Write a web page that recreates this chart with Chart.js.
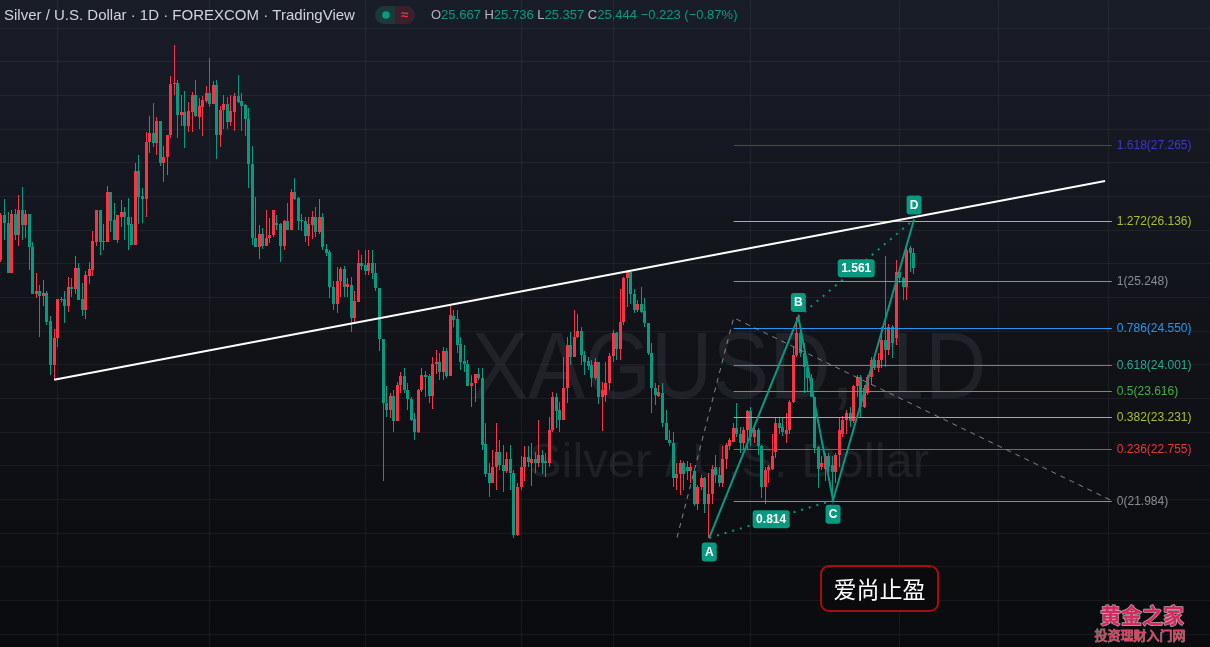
<!DOCTYPE html>
<html>
<head>
<meta charset="utf-8">
<title>XAGUSD 1D</title>
<style>
  html, body { margin: 0; padding: 0; background: #0e1016; overflow: hidden; }
  #wrap { position: relative; width: 1210px; height: 647px; }
  canvas { display: block; }
</style>
<script src="https://cdn.jsdelivr.net/npm/chart.js@4.4.1/dist/chart.umd.min.js"></script>
</head>
<body>
<div id="wrap"><canvas id="c" width="1210" height="647"></canvas></div>
<script>
// ---- daily candles, XAGUSD (FOREXCOM) ----
const opens = [
  25.56, 26.23, 26.11, 25.37, 26.24, 25.93, 26.30, 26.07, 26.24, 25.75,
  25.05, 25.09, 25.03, 25.07, 24.65, 24.00, 24.40, 24.98, 24.98, 24.88,
  25.16, 25.13, 25.44, 24.98, 24.81, 25.32, 25.41, 25.82, 26.30, 25.82,
  25.82, 26.56, 26.15, 25.85, 26.19, 26.27, 26.19, 26.09, 25.78, 26.88,
  26.51, 26.47, 27.31, 27.44, 27.29, 27.62, 27.00, 27.08, 27.41, 28.17,
  28.19, 27.71, 27.76, 27.55, 27.76, 28.01, 27.68, 27.83, 27.92, 28.03,
  27.87, 28.16, 27.41, 27.78, 27.87, 27.61, 27.76, 27.99, 27.92, 27.86,
  27.65, 26.99, 25.89, 25.75, 25.94, 25.76, 25.88, 25.93, 26.10, 26.09,
  25.76, 26.14, 26.01, 26.56, 26.48, 26.15, 26.14, 25.92, 26.08, 26.20,
  25.97, 26.20, 25.72, 25.67, 25.16, 24.91, 25.24, 25.42, 25.16, 25.19,
  24.69, 24.94, 25.51, 25.48, 25.40, 25.51, 25.36, 25.14, 24.38, 23.44,
  23.33, 23.54, 23.17, 23.70, 23.84, 23.63, 23.50, 23.19, 23.01, 23.63,
  23.85, 23.84, 23.54, 24.01, 24.04, 23.89, 24.21, 23.84, 24.73, 24.68,
  24.31, 24.06, 24.02, 23.68, 23.73, 23.86, 23.80, 22.83, 22.39, 22.25,
  22.48, 22.70, 22.51, 22.42, 22.61, 22.40, 21.47, 22.18, 22.48, 22.63,
  22.54, 22.61, 22.54, 22.66, 22.58, 22.55, 23.04, 23.53, 23.33, 23.18,
  23.65, 24.29, 24.12, 24.41, 24.50, 24.15, 24.06, 24.00, 23.80, 24.04,
  23.53, 23.55, 23.73, 24.13, 24.48, 24.24, 24.63, 25.29, 25.38, 25.06,
  24.82, 24.91, 24.80, 24.62, 24.17, 23.65, 23.54, 23.58, 23.13, 22.89,
  22.84, 22.32, 22.38, 22.54, 22.49, 22.42, 22.42, 21.94, 22.18, 22.32,
  21.94, 22.08, 22.48, 22.37, 22.24, 22.61, 22.79, 22.86, 23.06, 22.98,
  22.84, 23.03, 23.31, 22.93, 23.04, 22.79, 22.19, 22.44, 22.46, 22.70,
  23.14, 23.08, 22.98, 23.03, 23.45, 24.14, 24.47, 24.17, 23.97, 23.80,
  23.53, 22.78, 22.49, 22.46, 22.64, 22.51, 22.41, 22.66, 22.98, 23.18,
  23.28, 23.16, 23.68, 23.82, 23.38, 23.58, 23.82, 24.08, 23.95, 24.07,
  24.37, 24.22, 24.57, 24.40, 25.38, 25.29, 25.16, 25.73, 25.667
];
const highs = [
  26.26, 26.46, 26.27, 26.30, 26.32, 26.52, 26.64, 26.30, 26.24, 25.82,
  25.36, 25.18, 25.26, 25.10, 24.73, 24.53, 24.98, 25.01, 25.09, 25.30,
  25.29, 25.62, 25.51, 25.21, 25.40, 25.53, 25.99, 26.30, 26.30, 26.09,
  26.65, 26.56, 26.41, 26.23, 26.45, 26.35, 26.48, 26.20, 27.00, 27.11,
  26.63, 27.46, 27.69, 27.89, 27.68, 27.62, 27.25, 27.41, 28.29, 28.75,
  28.23, 28.01, 28.07, 27.91, 28.05, 28.23, 27.96, 27.99, 28.14, 28.56,
  28.21, 28.23, 27.84, 28.01, 27.98, 28.01, 28.04, 28.30, 28.03, 27.88,
  27.82, 27.25, 26.50, 26.08, 26.03, 26.30, 26.18, 26.30, 26.23, 26.10,
  26.15, 26.41, 26.61, 26.77, 26.50, 26.24, 26.20, 26.20, 26.29, 26.35,
  26.46, 26.25, 25.80, 25.71, 25.24, 25.46, 25.46, 25.47, 25.29, 25.31,
  25.09, 25.71, 25.63, 25.71, 25.71, 25.71, 25.51, 25.14, 24.38, 23.68,
  23.58, 23.63, 23.75, 23.90, 23.95, 23.73, 23.53, 23.28, 23.64, 23.96,
  23.91, 23.87, 24.12, 24.22, 24.17, 24.27, 24.25, 24.87, 24.82, 24.82,
  24.41, 24.30, 24.07, 23.85, 23.87, 23.95, 23.96, 23.13, 22.54, 22.74,
  23.13, 22.89, 22.81, 22.70, 22.81, 22.44, 22.24, 22.64, 22.79, 22.79,
  22.84, 22.71, 23.18, 22.74, 22.69, 23.23, 23.60, 23.58, 23.45, 24.12,
  24.41, 24.49, 24.82, 24.76, 24.57, 24.20, 24.12, 24.07, 24.10, 24.05,
  23.74, 24.05, 24.17, 24.52, 24.49, 25.12, 25.30, 25.41, 25.41, 25.12,
  24.96, 25.16, 24.99, 24.62, 24.32, 23.73, 23.70, 23.73, 23.33, 23.03,
  23.01, 22.54, 22.59, 22.58, 22.58, 22.54, 22.44, 22.22, 22.36, 22.34,
  22.40, 22.51, 22.66, 22.49, 22.79, 22.84, 22.91, 23.13, 23.43, 23.08,
  23.08, 23.33, 23.38, 23.06, 23.06, 22.81, 22.49, 22.51, 22.98, 23.23,
  23.23, 23.23, 23.28, 23.48, 24.27, 24.71, 24.57, 24.32, 24.02, 23.87,
  23.53, 22.79, 22.64, 22.69, 22.69, 22.64, 22.69, 23.23, 23.24, 23.33,
  23.38, 23.70, 23.85, 23.85, 23.70, 23.85, 24.12, 24.10, 24.17, 24.57,
  25.61, 24.60, 24.59, 25.56, 25.46, 25.31, 25.73, 25.76, 25.736
];
const lows = [
  25.53, 25.85, 25.37, 25.37, 25.85, 25.77, 25.85, 25.89, 25.41, 25.06,
  24.99, 24.42, 24.87, 24.59, 23.85, 23.78, 24.26, 24.94, 24.62, 24.78,
  25.01, 25.06, 24.96, 24.72, 24.68, 25.20, 25.32, 25.76, 25.63, 25.70,
  25.82, 25.98, 25.85, 25.81, 26.05, 25.85, 25.71, 25.78, 25.78, 26.09,
  26.11, 26.19, 27.15, 27.24, 27.11, 26.95, 26.72, 26.82, 27.37, 28.01,
  27.37, 27.54, 27.22, 27.46, 27.46, 27.68, 27.50, 27.40, 27.89, 27.83,
  27.87, 27.05, 27.24, 27.51, 27.50, 27.54, 27.48, 27.89, 27.48, 27.40,
  26.62, 25.78, 25.75, 25.57, 25.72, 25.76, 25.81, 25.90, 26.00, 25.53,
  25.71, 26.00, 26.00, 26.45, 26.00, 25.99, 25.82, 25.77, 25.87, 25.90,
  25.94, 25.70, 25.62, 24.99, 24.82, 24.77, 25.01, 25.01, 25.01, 24.49,
  24.62, 24.94, 25.41, 25.33, 25.33, 25.27, 25.09, 24.20, 22.27, 23.23,
  23.21, 23.01, 23.17, 23.58, 23.59, 23.33, 23.17, 22.88, 22.99, 23.60,
  23.53, 23.44, 23.35, 23.87, 23.78, 23.78, 23.80, 23.83, 24.57, 24.17,
  23.92, 23.90, 23.68, 23.38, 23.45, 23.78, 22.74, 22.34, 22.04, 22.24,
  22.14, 22.44, 22.12, 22.40, 22.14, 21.43, 21.46, 22.14, 22.27, 22.49,
  22.20, 22.39, 22.49, 22.38, 22.34, 22.48, 23.01, 23.07, 23.01, 23.18,
  23.43, 24.00, 24.12, 24.40, 24.00, 23.85, 23.92, 23.67, 23.78, 23.42,
  23.02, 23.45, 23.63, 24.05, 24.07, 24.07, 24.59, 24.86, 24.91, 24.77,
  24.79, 24.77, 24.56, 24.15, 23.28, 23.40, 23.53, 23.08, 22.89, 22.79,
  22.19, 22.14, 22.07, 22.14, 22.29, 22.24, 21.90, 21.85, 22.14, 21.80,
  21.43, 21.94, 22.24, 22.19, 22.19, 22.46, 22.74, 22.86, 22.93, 22.69,
  22.74, 22.74, 22.79, 22.84, 22.66, 22.02, 21.94, 22.24, 22.44, 22.62,
  22.98, 22.94, 22.84, 22.98, 23.43, 24.12, 24.12, 23.58, 23.60, 23.53,
  22.69, 22.17, 22.44, 22.27, 22.41, 21.99, 22.24, 22.49, 22.93, 22.98,
  23.08, 23.13, 23.53, 23.23, 23.36, 23.55, 23.70, 23.92, 23.90, 23.95,
  23.97, 24.15, 24.10, 24.30, 25.21, 24.96, 24.96, 25.38, 25.357
];
const closes = [
  26.23, 26.11, 25.37, 26.24, 25.93, 26.30, 26.07, 26.24, 25.75, 25.06,
  25.09, 25.03, 25.07, 24.64, 24.00, 24.40, 24.98, 24.97, 24.88, 25.16,
  25.13, 25.44, 24.96, 24.81, 25.34, 25.42, 25.84, 26.30, 25.82, 25.84,
  26.56, 26.14, 25.85, 26.22, 26.27, 26.19, 26.08, 25.78, 26.88, 26.50,
  26.47, 27.31, 27.44, 27.29, 27.62, 27.00, 27.09, 27.41, 28.17, 28.19,
  27.71, 27.76, 27.55, 27.77, 28.01, 27.69, 27.84, 27.93, 28.03, 27.87,
  28.16, 27.41, 27.78, 27.87, 27.61, 27.77, 27.99, 27.91, 27.85, 27.65,
  26.99, 25.89, 25.75, 25.94, 25.76, 25.88, 25.93, 26.30, 26.08, 25.76,
  26.14, 26.01, 26.56, 26.47, 26.14, 26.13, 25.92, 26.09, 26.20, 25.98,
  26.20, 25.75, 25.66, 25.16, 24.91, 25.24, 25.42, 25.16, 25.20, 24.69,
  24.95, 25.51, 25.47, 25.40, 25.51, 25.36, 25.14, 24.38, 23.44, 23.33,
  23.54, 23.17, 23.70, 23.84, 23.62, 23.50, 23.18, 23.01, 23.63, 23.85,
  23.82, 23.54, 24.01, 24.04, 23.89, 24.21, 23.84, 24.74, 24.66, 24.30,
  24.05, 24.02, 23.68, 23.73, 23.86, 23.80, 22.81, 22.38, 22.25, 22.48,
  22.70, 22.51, 22.42, 22.61, 22.39, 21.47, 22.18, 22.48, 22.63, 22.56,
  22.61, 22.54, 22.66, 22.54, 22.55, 23.04, 23.53, 23.32, 23.18, 23.65,
  24.29, 24.12, 24.41, 24.50, 24.15, 24.05, 23.99, 23.80, 24.04, 23.53,
  23.63, 23.73, 24.13, 24.48, 24.24, 24.63, 25.29, 25.38, 25.06, 24.82,
  24.91, 24.79, 24.62, 24.17, 23.65, 23.55, 23.60, 23.13, 22.89, 22.84,
  22.32, 22.38, 22.54, 22.38, 22.42, 22.49, 21.94, 22.18, 22.32, 21.94,
  22.08, 22.46, 22.37, 22.24, 22.61, 22.81, 22.88, 23.06, 22.98, 22.84,
  23.03, 23.31, 22.93, 23.04, 22.79, 22.19, 22.44, 22.49, 22.64, 23.14,
  23.06, 23.01, 23.03, 23.45, 24.14, 24.47, 24.17, 23.97, 23.80, 23.53,
  22.76, 22.46, 22.54, 22.64, 22.49, 22.41, 22.66, 23.03, 23.18, 23.28,
  23.16, 23.68, 23.82, 23.38, 23.65, 23.82, 24.08, 23.95, 24.08, 24.37,
  24.22, 24.57, 24.32, 25.38, 25.29, 25.16, 25.70, 25.667, 25.444
];

// bar indices where a new month starts (vertical grid)
const monthStarts = [16, 59, 103, 147, 173, 212, 254, 282, 313];

// rising trend line through the swing lows / highs  [bar index, price]
const trendFrom = [15, 23.78];
const trendTo = [312.1, 26.73];

// trend-based fib extension: three anchors [bar index, price]
const fibAnchors = [[191.1, 21.436], [207.1, 24.70], [314.0, 21.984]];
const fibRatios = [0, 0.236, 0.382, 0.5, 0.618, 0.786, 1, 1.272, 1.618];
const fibPrices = [21.984, 22.755, 23.231, 23.616, 24.001, 24.550, 25.248, 26.136, 27.265];

// ABCD pattern
const abcdNames = ['A', 'B', 'C', 'D'];
const abcdIndex = [200.2, 225.4, 235.2, 258.1];
const abcdPrice = [21.43, 24.71, 21.99, 26.16];
const abcdRatios = ['0.814', '1.561'];

// ---- styling ----
const UP = '#f23645';
const DOWN = '#089981';
const GRID = 'rgba(240,243,250,0.06)';
const fibColors = ['#8a8d96', '#e53935', '#a9bf2e', '#43b047', '#26a88c', '#2196f3', '#8a8d96', '#a9bf2e', '#3a3ac6'];
const LATIN = '"Liberation Sans", Arial, sans-serif';
const CJK = '"Noto Sans CJK SC", sans-serif';

// canvas geometry: bar i sits at 1 + 3.5376*i px, price p at (29.418 - p)*67.35 px
const BAR_STEP = 3.5376;
const X_MIN = -1 / BAR_STEP;
const X_MAX = (1210 - 1) / BAR_STEP;
const Y_MAX = 29.418;
const Y_MIN = Y_MAX - 647 / 67.35;

const idx = opens.map((_, i) => i);
const candleColor = ctx => (closes[ctx.dataIndex] >= opens[ctx.dataIndex] ? UP : DOWN);

function rrect(ctx, x, y, w, h, r) {
  ctx.beginPath();
  if (ctx.roundRect) { ctx.roundRect(x, y, w, h, r); return; }
  ctx.moveTo(x + r, y);
  ctx.arcTo(x + w, y, x + w, y + h, r);
  ctx.arcTo(x + w, y + h, x, y + h, r);
  ctx.arcTo(x, y + h, x, y, r);
  ctx.arcTo(x, y, x + w, y, r);
  ctx.closePath();
}

function tagBox(ctx, cx, cy, w, h, text) {
  ctx.fillStyle = DOWN;
  rrect(ctx, cx - w / 2, cy - h / 2, w, h, 3);
  ctx.fill();
  ctx.fillStyle = '#ffffff';
  ctx.font = 'bold 12px ' + LATIN;
  ctx.textAlign = 'center';
  ctx.textBaseline = 'middle';
  ctx.fillText(text, cx, cy + 0.5);
}

// keep candle bodies and wicks on whole pixels so they render crisp
const pixelSnap = {
  id: 'pixelSnap',
  beforeDatasetsDraw(chart) {
    chart.getSortedVisibleDatasetMetas().forEach(meta => {
      meta.data.forEach(el => {
        el.x = Math.floor(el.x) + 0.5;
        let top = Math.round(Math.min(el.y, el.base));
        let bot = Math.round(Math.max(el.y, el.base));
        if (bot - top < 1) bot = top + 1;
        el.y = top;
        el.base = bot;
      });
    });
  }
};

const overlay = {
  id: 'overlay',
  beforeDraw(chart) {
    const { ctx, width, height } = chart;
    const g = ctx.createLinearGradient(0, 0, 0, height);
    g.addColorStop(0, '#191d28');
    g.addColorStop(0.5, '#111319');
    g.addColorStop(1, '#0a0b0e');
    ctx.save();
    ctx.fillStyle = g;
    ctx.fillRect(0, 0, width, height);
    ctx.restore();
  },
  beforeDatasetsDraw(chart) {
    const { ctx } = chart;
    ctx.save();
    ctx.fillStyle = 'rgba(200,205,218,0.085)';
    ctx.textAlign = 'center';
    ctx.textBaseline = 'alphabetic';
    ctx.translate(729, 398);
    ctx.scale(1, 1.12);
    ctx.font = '85px ' + LATIN;
    ctx.fillText('XAGUSD, 1D', 0, 0);
    ctx.restore();
    ctx.save();
    ctx.fillStyle = 'rgba(200,205,218,0.085)';
    ctx.textAlign = 'center';
    ctx.textBaseline = 'alphabetic';
    ctx.font = '49px ' + LATIN;
    ctx.fillText('Silver / U.S. Dollar', 729, 477);
    ctx.restore();
  },
  afterDatasetsDraw(chart) {
    const { ctx } = chart;
    const xs = chart.scales.x, ys = chart.scales.y;
    const X = v => xs.getPixelForValue(v);
    const Y = v => ys.getPixelForValue(v);
    ctx.save();

    // fib extension levels
    const fx0 = X(fibAnchors[1][0]);
    const fx1 = X(fibAnchors[2][0]);
    ctx.lineWidth = 1;
    ctx.font = '12px ' + LATIN;
    ctx.textAlign = 'left';
    ctx.textBaseline = 'middle';
    fibPrices.forEach((p, k) => {
      const y = Math.round(Y(p)) + 0.5;
      ctx.strokeStyle = fibColors[k];
      ctx.beginPath();
      ctx.moveTo(fx0, y);
      ctx.lineTo(fx1, y);
      ctx.stroke();
      ctx.fillStyle = fibColors[k];
      ctx.fillText(fibRatios[k] + '(' + p.toFixed(3) + ')', fx1 + 5, y);
    });

    // dashed anchor legs of the extension
    ctx.strokeStyle = 'rgba(150,153,163,0.85)';
    ctx.setLineDash([5, 5]);
    ctx.beginPath();
    fibAnchors.forEach(([i, p], k) => (k ? ctx.lineTo(X(i), Y(p)) : ctx.moveTo(X(i), Y(p))));
    ctx.stroke();
    ctx.setLineDash([]);

    // trend line
    ctx.strokeStyle = '#ffffff';
    ctx.lineWidth = 2;
    ctx.beginPath();
    ctx.moveTo(X(trendFrom[0]), Y(trendFrom[1]));
    ctx.lineTo(X(trendTo[0]), Y(trendTo[1]));
    ctx.stroke();

    // ABCD legs
    const pts = abcdIndex.map((v, k) => [X(v), Y(abcdPrice[k])]);
    ctx.strokeStyle = DOWN;
    ctx.lineWidth = 2;
    ctx.beginPath();
    pts.forEach(([x, y], k) => (k ? ctx.lineTo(x, y) : ctx.moveTo(x, y)));
    ctx.stroke();

    // dotted ratio legs A-C and B-D
    ctx.setLineDash([2, 6]);
    ctx.beginPath();
    ctx.moveTo(pts[0][0], pts[0][1]); ctx.lineTo(pts[2][0], pts[2][1]);
    ctx.moveTo(pts[1][0], pts[1][1]); ctx.lineTo(pts[3][0], pts[3][1]);
    ctx.stroke();
    ctx.setLineDash([]);

    // ratio tags on the dotted legs
    tagBox(ctx, (pts[0][0] + pts[2][0]) / 2, (pts[0][1] + pts[2][1]) / 2, 37, 18, abcdRatios[0]);
    tagBox(ctx, (pts[1][0] + pts[3][0]) / 2, (pts[1][1] + pts[3][1]) / 2, 37, 18, abcdRatios[1]);

    // point tags
    pts.forEach(([x, y], k) => {
      const below = k % 2 === 0;
      tagBox(ctx, x, below ? y + 14 : y - 14.5, 15, 19, abcdNames[k]);
    });

    // caption box
    ctx.fillStyle = '#0a0a0c';
    ctx.strokeStyle = '#a80d0d';
    ctx.lineWidth = 2;
    rrect(ctx, 821, 566, 117, 45, 8);
    ctx.fill();
    ctx.stroke();
    ctx.fillStyle = '#ffffff';
    ctx.font = '23px ' + CJK;
    ctx.textAlign = 'center';
    ctx.textBaseline = 'middle';
    ctx.fillText('爱尚止盈', 879.5, 589);

    // site mark
    ctx.lineJoin = 'round';
    ctx.font = 'bold 21px ' + CJK;
    ctx.lineWidth = 1.4;
    ctx.strokeStyle = 'rgba(255,215,228,0.75)';
    ctx.fillStyle = '#d42a5e';
    ctx.strokeText('黄金之家', 1142, 615);
    ctx.fillText('黄金之家', 1142, 615);
    ctx.font = '13px ' + CJK;
    ctx.lineWidth = 1;
    ctx.strokeStyle = 'rgba(255,190,205,0.55)';
    ctx.fillStyle = '#e0405c';
    ctx.strokeText('投资理财入门网', 1140, 635);
    ctx.fillText('投资理财入门网', 1140, 635);

    ctx.restore();
  },
  afterDraw(chart) {
    const { ctx } = chart;
    const n = closes.length - 1;
    ctx.save();
    ctx.textBaseline = 'middle';
    ctx.textAlign = 'left';
    ctx.font = '15px ' + LATIN;
    ctx.fillStyle = '#d1d4dc';
    ctx.fillText('Silver / U.S. Dollar · 1D · FOREXCOM · TradingView', 4, 15.5);

    // status pill
    ctx.fillStyle = '#1b3a37';
    rrect(ctx, 375, 6, 40, 18, 9);
    ctx.fill();
    ctx.save();
    ctx.beginPath();
    ctx.rect(395, 0, 30, 30);
    ctx.clip();
    ctx.fillStyle = '#3d1e2c';
    rrect(ctx, 375, 6, 40, 18, 9);
    ctx.fill();
    ctx.restore();
    ctx.fillStyle = DOWN;
    ctx.beginPath();
    ctx.arc(386, 15, 3.8, 0, Math.PI * 2);
    ctx.fill();
    ctx.fillStyle = UP;
    ctx.font = 'bold 13px ' + LATIN;
    ctx.textAlign = 'center';
    ctx.fillText('≈', 404.5, 15);

    // OHLC of the last bar
    const chg = closes[n] - closes[n - 1];
    const pct = chg / closes[n - 1] * 100;
    const valColor = closes[n] >= opens[n] ? UP : DOWN;
    const parts = [
      ['O', opens[n].toFixed(3)], ['H', highs[n].toFixed(3)],
      ['L', lows[n].toFixed(3)], ['C', closes[n].toFixed(3)]
    ];
    ctx.textAlign = 'left';
    ctx.font = '13px ' + LATIN;
    let x = 431;
    parts.forEach(([k, v]) => {
      ctx.fillStyle = '#b2b5be';
      ctx.fillText(k, x, 15.5);
      x += ctx.measureText(k).width;
      ctx.fillStyle = valColor;
      ctx.fillText(v, x, 15.5);
      x += ctx.measureText(v + ' ').width;
    });
    ctx.fillStyle = valColor;
    const chgText = (chg < 0 ? '\u2212' : '+') + Math.abs(chg).toFixed(3) +
      ' (' + (pct < 0 ? '\u2212' : '+') + Math.abs(pct).toFixed(2) + '%)';
    ctx.fillText(chgText, x, 15.5);
    ctx.restore();
  }
};

new Chart(document.getElementById('c'), {
  type: 'bar',
  data: {
    datasets: [
      {
        label: 'wick',
        data: idx.map(i => ({ x: i, y: [lows[i], highs[i]] })),
        backgroundColor: candleColor,
        barThickness: 1,
        grouped: false,
        inflateAmount: 0,
        borderWidth: 0,
        order: 2
      },
      {
        label: 'body',
        data: idx.map(i => ({ x: i, y: [opens[i], closes[i]] })),
        backgroundColor: candleColor,
        barThickness: 3,
        grouped: false,
        inflateAmount: 0,
        borderWidth: 0,
        order: 1
      }
    ]
  },
  options: {
    responsive: false,
    animation: false,
    devicePixelRatio: 1,
    layout: { padding: 0 },
    plugins: { legend: { display: false }, tooltip: { enabled: false } },
    scales: {
      x: {
        type: 'linear',
        min: X_MIN,
        max: X_MAX,
        offset: false,
        grid: { color: GRID, drawTicks: false, offset: false },
        border: { display: false },
        ticks: { display: false },
        afterBuildTicks: s => { s.ticks = monthStarts.map(v => ({ value: v })); }
      },
      y: {
        type: 'linear',
        min: Y_MIN,
        max: Y_MAX,
        grid: { color: GRID, drawTicks: false },
        border: { display: false },
        ticks: { display: false, stepSize: 0.5, includeBounds: false }
      }
    }
  },
  plugins: [pixelSnap, overlay]
});
</script>
</body>
</html>
